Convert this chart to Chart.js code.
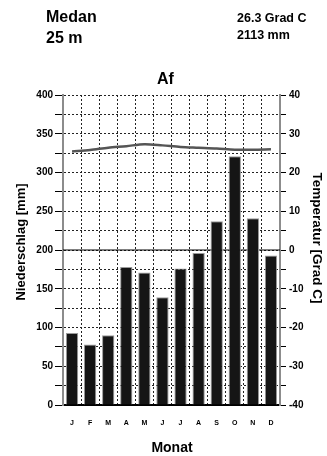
<!DOCTYPE html>
<html>
<head>
<meta charset="utf-8">
<script src="https://cdn.jsdelivr.net/npm/chart.js@4/dist/chart.umd.min.js"></script>
<style>
  html, body { margin: 0; padding: 0; background: #fff; }
  #wrap { position: relative; width: 327px; height: 456px; overflow: hidden; }
  canvas { position: absolute; left: 0; top: 0; }
  .t { position: absolute; font-family: "Liberation Sans", Arial, sans-serif; font-weight: bold; color: #000; white-space: nowrap; line-height: 1; }
</style>
</head>
<body>
<div id="wrap">
  <canvas id="c" width="327" height="456"></canvas>
  <div class="t" style="left:46px; top:9px; font-size:16px;">Medan</div>
  <div class="t" style="left:46px; top:30px; font-size:16px;">25 m</div>
  <div class="t" style="left:237px; top:12px; font-size:12.5px;">26.3 Grad C</div>
  <div class="t" style="left:237px; top:29px; font-size:12.5px;">2113 mm</div>
  <div class="t" style="left:157px; top:71px; font-size:16px;">Af</div>
</div>
<script>
const months = ['J','F','M','A','M','J','J','A','S','O','N','D'];
const precipitation = [93, 78, 90, 178, 171, 139, 176, 196, 237, 321, 241, 193];
const temperature = [25.4, 25.8, 26.4, 26.8, 27.3, 27.0, 26.6, 26.4, 26.2, 25.9, 25.9, 26.0];
const precipTicks = [0, 50, 100, 150, 200, 250, 300, 350, 400];
const tempTicks = [-40, -30, -20, -10, 0, 10, 20, 30, 40];
const xTitle = 'Monat';
const yTitle = 'Niederschlag [mm]';
const yTTitle = 'Temperatur [Grad C]';

const FONT = '"Liberation Sans", Arial, sans-serif';

const zeroLine = {
  id: 'zeroLine',
  beforeDatasetsDraw(chart) {
    const {ctx, chartArea, scales} = chart;
    const y = scales.y.getPixelForValue(200);
    ctx.save();
    ctx.strokeStyle = '#000';
    ctx.lineWidth = 1;
    ctx.beginPath();
    ctx.moveTo(chartArea.left, y);
    ctx.lineTo(chartArea.right, y);
    ctx.stroke();
    ctx.restore();
  }
};

const axisTitles = {
  id: 'axisTitles',
  afterDraw(chart) {
    const {ctx} = chart;
    ctx.save();
    ctx.fillStyle = '#000';
    ctx.textAlign = 'center';
    ctx.textBaseline = 'middle';
    ctx.font = 'bold 14px ' + FONT;
    ctx.fillText(xTitle, 172, 448);
    ctx.save();
    ctx.translate(21, 242);
    ctx.rotate(-Math.PI / 2);
    ctx.font = 'bold 13px ' + FONT;
    ctx.fillText(yTitle, 0, 0);
    ctx.restore();
    ctx.save();
    ctx.translate(317, 238);
    ctx.rotate(Math.PI / 2);
    ctx.font = 'bold 13.5px ' + FONT;
    ctx.fillText(yTTitle, 0, 0);
    ctx.restore();
    ctx.restore();
  }
};

new Chart(document.getElementById('c'), {
  data: {
    labels: months,
    datasets: [
      {
        type: 'line',
        data: temperature,
        yAxisID: 'yT',
        borderColor: '#555555',
        borderWidth: 2.5,
        pointRadius: 0,
        tension: 0.3,
        order: 0
      },
      {
        type: 'bar',
        data: precipitation,
        yAxisID: 'y',
        backgroundColor: '#151515',
        borderColor: '#9a9a9a',
        borderWidth: 1,
        categoryPercentage: 1,
        barPercentage: 0.68,
        order: 1
      }
    ]
  },
  options: {
    responsive: false,
    animation: false,
    layout: { padding: { top: 95, left: 0, right: 0, bottom: 0 } },
    plugins: { legend: { display: false }, tooltip: { enabled: false } },
    scales: {
      x: {
        offset: true,
        afterFit: s => { s.height = 51; },
        grid: { offset: true, color: '#222', lineWidth: 1, drawTicks: false },
        border: { display: true, color: '#000', width: 2, dash: [2, 2] },
        ticks: { autoSkip: false, maxRotation: 0, padding: 14, color: '#000',
                 font: { family: FONT, size: 7, weight: 'bold' } },
        title: { display: false, text: xTitle }
      },
      y: {
        position: 'left',
        min: 0, max: 400,
        afterFit: s => { s.width = 63; },
        grid: { color: '#222', lineWidth: 1, tickLength: 8, tickColor: '#000' },
        border: { display: true, color: '#8c8c8c', width: 2, dash: [2, 2] },
        ticks: { stepSize: 25, padding: 2, color: '#000',
                 font: { family: FONT, size: 10, weight: 'bold' },
                 callback: v => precipTicks.includes(v) ? String(v) : '' },
        title: { display: false, text: yTitle }
      },
      yT: {
        position: 'right',
        min: -40, max: 40,
        afterFit: s => { s.width = 47; },
        grid: { drawOnChartArea: false, tickLength: 6, tickColor: '#000', lineWidth: 1 },
        border: { display: true, color: '#8c8c8c', width: 2 },
        ticks: { stepSize: 5, padding: 3, color: '#000',
                 font: { family: FONT, size: 10, weight: 'bold' },
                 callback: v => tempTicks.includes(v) ? String(v) : '' },
        title: { display: false, text: yTTitle }
      }
    }
  },
  plugins: [zeroLine, axisTitles]
});
</script>
</body>
</html>
